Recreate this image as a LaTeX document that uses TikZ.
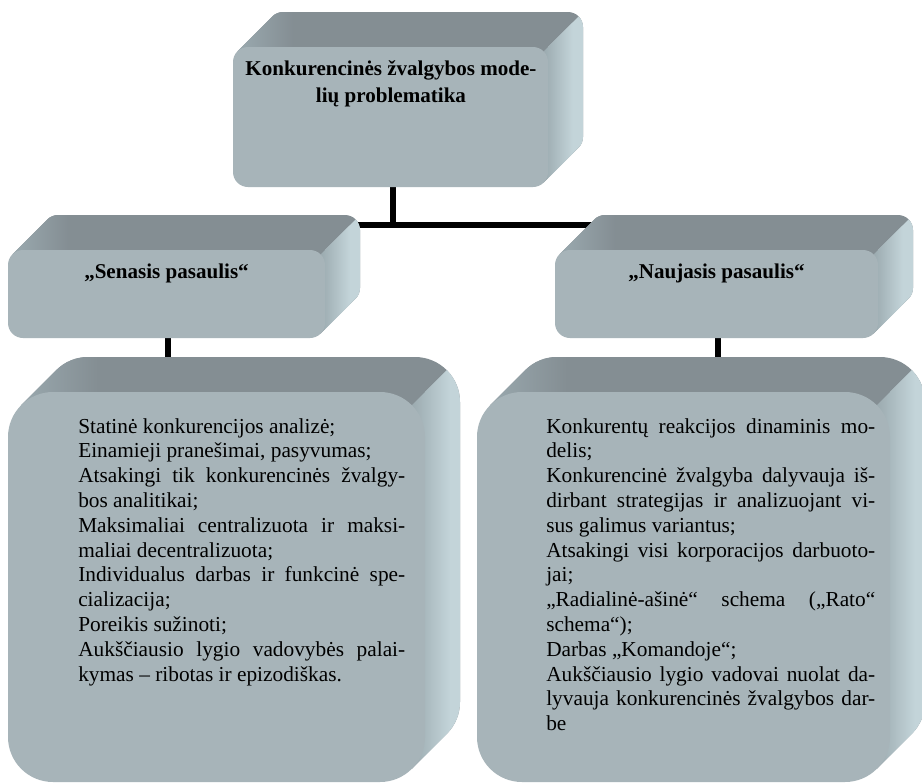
\documentclass[tikz,border=0pt]{standalone}
\usepackage{fontspec}
\setmainfont{Liberation Serif}
\pgfdeclarelayer{bg}
\pgfsetlayers{bg,main}
\definecolor{topc}{RGB}{132,142,147}
\definecolor{topl}{RGB}{158,174,180}
\definecolor{frontc}{RGB}{167,180,185}
\definecolor{sided}{RGB}{155,170,175}
\definecolor{sidel}{RGB}{195,212,217}
\tikzset{
  front/.style={fill=frontc, draw=none, inner sep=0pt, outer sep=0pt},
  conn/.style={draw=black, line width=4.5pt},
  headtext/.style={font=\fontsize{15.8pt}{20.25pt}\selectfont\bfseries, inner sep=0pt, anchor=base},
  bodytext/.style={font=\fontsize{16pt}{18.6pt}\selectfont, inner sep=0pt, anchor=base west}
}
% #1 name, #2 x1, #3 y1, #4 x2, #5 y2 (front face, px), #6 radius, #7 depth
\newcommand\bevelbox[7]{%
\begin{scope}
\clip[rounded corners=#6*0.75pt] (#2+#7,#3-#7) -- (#4+#7,#3-#7) -- (#4+#7,#5-#7) -- (#2+#7,#5-#7) -- cycle
  [sharp corners] (#2+0.2929*#6,#3+0.2929*#6) -- (#2+0.2929*#6+#7,#3+0.2929*#6-#7) -- (#4-0.2929*#6+#7,#5-0.2929*#6-#7) -- (#4-0.2929*#6,#5-0.2929*#6) -- cycle;
\fill[topc] (#2-5,#3-#7-5) rectangle (#4+#7+5,#5+5);
\shade[left color=topl, right color=topc] (#2-5,#3-#7-5) rectangle (#2+#7+#6+10,#3+#6);
\clip (#4-2000,#3+2000) -- (#4+2000,#3-2000) -- (#4+2000,#3+2000) -- cycle;
\fill[sidel] (#4,#3-#7-5) rectangle (#4+#7+5,#5+5);
\shade[left color=sided, right color=sidel] (#4-0.3*#6,#3-#7-5) rectangle (#4+0.7*#7,#5+5);
\end{scope}
\node[front, minimum width={(#4-#2)*0.75pt}, minimum height={(#5-#3)*0.75pt}, rounded corners=#6*0.75pt] (#1) at ({(#2+#4)/2},{(#3+#5)/2}) {};
}
\newcommand\jl[1]{\makebox[\linewidth][s]{#1}\\}
\begin{document}
\begin{tikzpicture}[x=0.75pt, y=-0.75pt]
\useasboundingbox (0,0) rectangle (922,783);
\begin{pgfonlayer}{bg}
\fill[white] (0,0) rectangle (922,783);
\end{pgfonlayer}
\clip (0,0) rectangle (922,783);

\bevelbox{ntop}{233}{47}{548}{187}{15}{35}
\bevelbox{nleft}{8}{250}{325}{338}{15}{35}
\bevelbox{nright}{555}{250}{878}{338}{15}{35}
\bevelbox{lbot}{8}{392}{425}{782}{45}{35}
\bevelbox{rbot}{477}{392}{890}{782}{45}{35}

\begin{pgfonlayer}{bg}
\coordinate (bar) at (0,225);
\draw[conn] ([xshift=1.5pt]ntop.south) -- ([xshift=1.5pt]ntop.south |- bar);
\draw[conn] (nleft.center |- bar) -- (nright.center |- bar);
\draw[conn] ([xshift=1pt]nleft.south) -- ([xshift=1pt]nleft.south |- lbot.north);
\draw[conn] ([xshift=1pt]nright.south) -- ([xshift=1pt]nright.south |- rbot.north);
\end{pgfonlayer}

\node[headtext] (ttl) at (391,75) {\parbox[t]{240pt}{\centering Konkurencinės žvalgybos mode-\\lių problematika}};
\node[headtext] (tleft) at (166.5,278) {„Senasis pasaulis“};
\node[headtext] (tright) at (716.5,278) {„Naujasis pasaulis“};

\node[bodytext] (bleft) at (78,433) {\parbox[t]{245.25pt}{%
Statinė konkurencijos analizė;\\
Einamieji pranešimai, pasyvumas;\\
\jl{Atsakingi tik konkurencinės žvalgy-}
bos analitikai;\\
\jl{Maksimaliai centralizuota ir maksi-}
maliai decentralizuota;\\
\jl{Individualus darbas ir funkcinė spe-}
cializacija;\\
Poreikis sužinoti;\\
\jl{Aukščiausio lygio vadovybės palai-}
kymas – ribotas ir epizodiškas.}};

\node[bodytext] (bright) at (546,433) {\parbox[t]{246.75pt}{%
\jl{Konkurentų reakcijos dinaminis mo-}
delis;\\
\jl{Konkurencinė žvalgyba dalyvauja iš-}
\jl{dirbant strategijas ir analizuojant vi-}
sus galimus variantus;\\
\jl{Atsakingi visi korporacijos darbuoto-}
jai;\\
\jl{„Radialinė-ašinė“ schema („Rato“}
schema“);\\
Darbas „Komandoje“;\\
\jl{Aukščiausio lygio vadovai nuolat da-}
\jl{lyvauja konkurencinės žvalgybos dar-}
be}};
\end{tikzpicture}
\end{document}
